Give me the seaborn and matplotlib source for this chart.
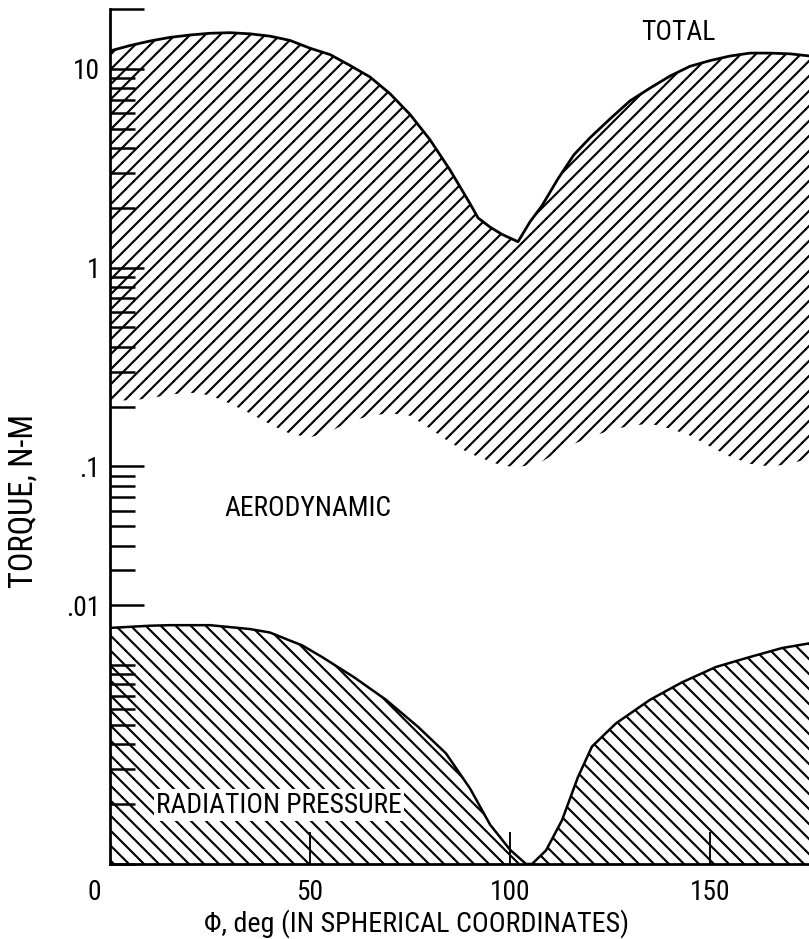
import numpy as np
import pandas as pd
import matplotlib
matplotlib.use('Agg')
import matplotlib.pyplot as plt
import seaborn as sns
from matplotlib import font_manager
from matplotlib.ticker import FixedLocator, NullFormatter

# values (phi in deg, torque in N-m)
phi_band = [0, 5, 10, 15, 20, 25, 30, 35, 40, 45, 50, 55, 60, 65, 70, 75, 80, 85, 90,
            92, 95, 98, 102, 105, 108, 112, 116, 120, 125, 130, 135, 140, 145, 150,
            155, 160, 165, 170, 175]
torque_total = [12.3, 13.1, 13.8, 14.4, 14.8, 15.1, 15.2, 15.0, 14.6, 13.9, 12.7, 11.8,
                10.4, 9.1, 7.5, 5.9, 4.4, 3.1, 2.1, 1.78, 1.6, 1.47, 1.35, 1.7, 2.05,
                2.8, 3.7, 4.5, 5.6, 6.9, 8.0, 9.2, 10.3, 11.0, 11.6, 12.0, 12.0, 11.9, 11.6]
torque_aero_min = [0.215, 0.215, 0.22, 0.23, 0.235, 0.228, 0.207, 0.185, 0.163, 0.146,
                   0.140, 0.15, 0.168, 0.18, 0.185, 0.18, 0.155, 0.132, 0.116, 0.112,
                   0.106, 0.101, 0.099, 0.102, 0.106, 0.118, 0.13, 0.14, 0.152, 0.16,
                   0.164, 0.155, 0.143, 0.126, 0.112, 0.103, 0.100, 0.103, 0.11]

phi_rad = [0, 10, 15, 25, 35, 40, 45, 48, 53, 61, 69, 77, 84, 90, 95, 100, 104, 105.5,
           109, 113, 117, 120.5, 126.5, 135, 143, 151.5, 160, 168, 175]
torque_rad = [0.0154, 0.0158, 0.0159, 0.0159, 0.0152, 0.0146, 0.0133, 0.0126, 0.011,
              0.0087, 0.0067, 0.0049, 0.0036, 0.0024, 0.00158, 0.00118, 0.001, 0.001,
              0.00117, 0.00166, 0.00274, 0.0039, 0.0051, 0.0067, 0.0082, 0.0098, 0.011,
              0.0122, 0.0129]

xtick_vals = [50, 100, 150]
xtick_labels = ['50', '100', '150']
ytick_vals = [20, 10, 1, 0.1, 0.02]
ytick_labels = ['', '10', '1', '.1', '.01']

df_band = pd.DataFrame({'phi': phi_band, 'total': torque_total, 'aero': torque_aero_min})
df_rad = pd.DataFrame({'phi': phi_rad, 'rad': torque_rad})

# the scan uses a narrow typeface, pick the narrowest one we have
installed = {f.name for f in font_manager.fontManager.ttflist}
narrow = [f for f in ['Liberation Sans Narrow', 'Roboto Condensed', 'DejaVu Sans Condensed',
                      'Liberation Sans'] if f in installed]

sns.set_style('ticks')
plt.rcParams['font.family'] = narrow[:1] + ['DejaVu Sans']
plt.rcParams['font.stretch'] = 'condensed'
plt.rcParams['text.color'] = 'black'
plt.rcParams['axes.labelcolor'] = 'black'
plt.rcParams['xtick.color'] = 'black'
plt.rcParams['ytick.color'] = 'black'
plt.rcParams['hatch.linewidth'] = 1.7
plt.rcParams['hatch.color'] = 'black'

fig = plt.figure(figsize=(809 / 90, 939 / 90), dpi=90)
ax = fig.add_axes([110 / 809, 75 / 939, 699 / 809, 855 / 939])
ax.set_yscale('log')

ymin, ymax = 0.001, 20

# hatched bands
ax.fill_between(df_band['phi'], df_band['aero'], df_band['total'],
                facecolor='none', edgecolor='black', linewidth=0, hatch='//')
ax.fill_between(df_rad['phi'], ymin, df_rad['rad'],
                facecolor='none', edgecolor='black', linewidth=0, hatch='\\\\')

sns.lineplot(data=df_band, x='phi', y='total', color='black', linewidth=2.2, ax=ax)
sns.lineplot(data=df_rad, x='phi', y='rad', color='black', linewidth=2.0, ax=ax)

ax.set_xlim(0, 174.75)
ax.set_ylim(ymin, ymax)

sns.despine(ax=ax, top=True, right=True)
ax.spines['left'].set_linewidth(2.2)
ax.spines['bottom'].set_linewidth(2.2)
ax.spines['left'].set_color('black')
ax.spines['bottom'].set_color('black')

ax.set_xticks(xtick_vals, xtick_labels)
ax.set_yticks(ytick_vals, ytick_labels)
minor = [m * 10.0 ** e for e in range(-3, 2) for m in range(1, 10)]
ax.yaxis.set_minor_locator(FixedLocator(minor))
ax.yaxis.set_minor_formatter(NullFormatter())
ax.tick_params(axis='y', which='major', direction='in', length=27, width=2, pad=8, labelsize=22)
ax.tick_params(axis='y', which='minor', direction='in', length=20, width=2)
ax.tick_params(axis='x', which='major', direction='in', length=26, width=1.5, pad=12, labelsize=22)

ax.annotate('0', xy=(0, 0), xycoords='axes fraction', xytext=(-13, -12),
            textcoords='offset points', ha='center', va='top', fontsize=22)

ax.set_xlabel('\u03a6, deg (IN SPHERICAL COORDINATES)', fontsize=22.5)
ax.set_ylabel('TORQUE, N-M', fontsize=26)
ax.xaxis.set_label_coords(0.438, -0.053)
ax.yaxis.set_label_coords(-0.100, 0.425)

ax.text(142, 15.2, 'TOTAL', ha='center', va='center', fontsize=22)
ax.text(49.5, 0.0615, 'AERODYNAMIC', ha='center', va='center', fontsize=22)
ax.text(42.3, 0.00198, 'RADIATION PRESSURE', ha='center', va='center', fontsize=22,
        bbox=dict(facecolor='white', edgecolor='none', pad=2))

fig.savefig('out.png', dpi=90)
